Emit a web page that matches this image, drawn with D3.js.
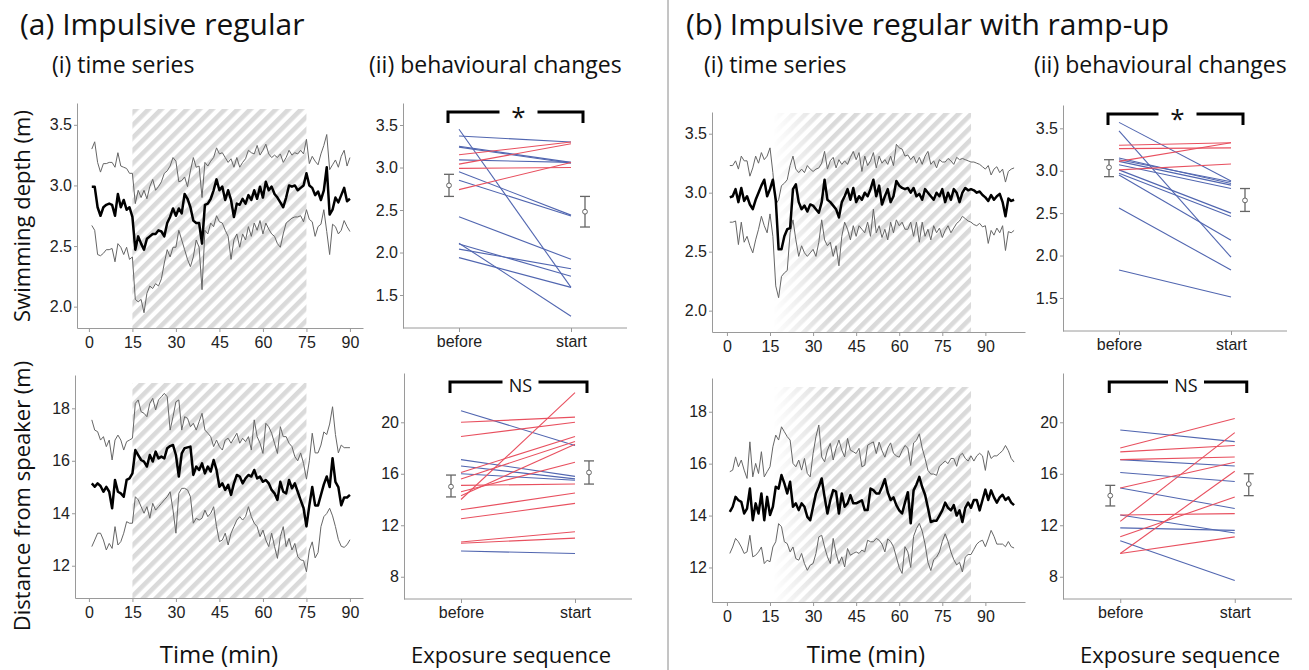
<!DOCTYPE html>
<html>
<head>
<meta charset="utf-8">
<script src="https://cdn.jsdelivr.net/npm/d3@7"></script>
<style>
  body { margin: 0; background: #fff; }
  svg { display: block; }
  .tick text { font-family: "Liberation Sans", Arial, sans-serif; font-size: 16px; fill: #222; }
  .title { font-family: "Open Sans", sans-serif; fill: #111; }
</style>
</head>
<body>
<div id="chart"></div>
<script>
// ---- data: time series (minute 1..N), swimming depth (m) and distance from speaker (m)

// (a) impulsive regular, minutes 1..90
const depthA_mean = [2.99,2.99,2.82,2.75,2.82,2.84,2.85,2.84,2.75,2.93,2.82,2.88,2.80,2.82,2.74,2.47,2.58,2.52,2.47,2.56,
  2.58,2.60,2.60,2.63,2.62,2.58,2.69,2.74,2.81,2.75,2.81,2.77,2.93,2.89,2.82,2.71,2.69,2.69,2.52,2.84,
  2.85,2.89,2.96,3.05,2.96,2.99,2.88,2.96,2.88,2.74,2.85,2.84,2.89,2.85,2.92,2.88,2.96,2.89,2.99,2.90,
  3.03,2.96,2.99,2.93,2.90,2.86,2.82,2.90,3.00,2.99,3.00,2.96,2.98,3.00,3.10,3.00,2.98,2.92,2.95,2.88,
  2.96,3.15,2.76,2.80,2.90,2.86,2.92,2.98,2.87,2.89];
const depthA_upper = [3.30,3.36,3.19,3.11,3.18,3.18,3.19,3.19,3.15,3.27,3.16,3.15,3.14,3.10,3.10,2.85,2.96,2.90,2.96,2.89,
  2.99,3.05,2.96,2.99,3.03,3.10,3.12,3.16,3.23,3.20,3.03,3.04,3.07,2.99,3.12,3.23,3.15,3.16,2.90,3.19,
  3.16,3.20,3.23,3.31,3.26,3.27,3.23,3.19,3.22,3.15,3.23,3.15,3.19,3.22,3.29,3.27,3.26,3.33,3.25,3.29,
  3.34,3.26,3.23,3.25,3.23,3.26,3.19,3.23,3.29,3.25,3.27,3.26,3.29,3.26,3.38,3.18,3.24,3.20,3.17,3.26,
  3.33,3.42,3.13,3.17,3.21,3.15,3.24,3.29,3.16,3.23];
const depthA_lower = [2.67,2.63,2.43,2.42,2.44,2.47,2.47,2.48,2.37,2.52,2.49,2.43,2.49,2.39,2.41,2.06,2.04,2.06,1.95,2.11,
  2.17,2.15,2.19,2.17,2.23,2.36,2.47,2.41,2.49,2.49,2.63,2.55,2.47,2.39,2.33,2.41,2.55,2.49,2.14,2.63,
  2.60,2.69,2.66,2.75,2.70,2.69,2.63,2.58,2.39,2.55,2.60,2.49,2.60,2.55,2.66,2.58,2.69,2.63,2.71,2.60,
  2.69,2.64,2.60,2.58,2.52,2.49,2.60,2.69,2.71,2.73,2.74,2.74,2.75,2.70,2.80,2.72,2.70,2.58,2.66,2.68,
  2.80,2.62,2.43,2.68,2.66,2.60,2.63,2.71,2.66,2.62];
const distA_mean = [15.14,15.01,15.14,15.04,14.82,15.01,14.82,14.19,15.27,14.82,14.76,14.63,15.27,15.33,15.52,16.41,16.22,16.03,15.97,15.78,
  16.22,15.97,16.35,16.09,16.16,16.09,16.48,16.56,16.60,16.22,15.40,16.28,16.48,16.51,16.54,15.46,15.78,15.65,15.90,15.52,
  15.78,15.59,16.03,15.65,15.01,15.14,14.89,15.08,14.70,15.14,15.46,15.40,15.14,15.33,15.46,15.40,15.65,15.33,15.40,15.20,
  15.27,15.14,14.89,14.76,14.51,15.20,14.82,14.76,15.27,14.95,15.14,14.82,14.50,14.20,13.50,14.30,15.00,14.30,14.30,14.70,
  15.10,15.40,15.00,16.10,15.20,15.00,14.30,14.60,14.60,14.70];
const distA_upper = [17.56,17.17,17.11,16.79,16.92,16.54,16.79,16.03,16.79,16.98,16.79,16.41,16.73,16.79,16.86,18.19,18.32,17.87,17.81,17.68,
  18.19,18.38,17.94,18.32,18.44,18.57,18.44,17.17,17.68,18.25,18.32,17.17,17.68,17.62,17.30,17.43,17.17,17.49,17.81,17.17,
  17.05,16.92,16.54,16.79,16.54,16.41,16.79,16.86,16.67,16.86,17.05,16.67,16.86,16.73,16.92,16.41,17.56,16.92,16.67,16.28,
  17.43,17.30,17.05,16.67,16.28,17.30,16.92,16.92,16.67,16.54,16.16,16.00,16.30,15.90,15.30,16.00,17.05,16.30,16.30,16.60,
  17.10,17.00,17.40,18.06,17.00,16.30,16.60,16.50,16.50,16.50];
const distA_lower = [12.73,12.98,13.24,13.24,12.98,12.60,12.85,12.66,13.49,12.79,12.92,13.24,13.68,13.62,13.62,14.63,14.51,14.25,14.00,14.25,
  13.81,14.38,14.12,14.25,14.38,14.51,14.63,14.82,14.12,13.24,14.76,14.95,14.95,14.89,14.63,13.62,13.81,13.74,13.81,14.12,
  13.87,14.00,14.25,13.49,12.92,12.98,13.24,12.79,13.24,13.49,13.74,13.87,13.74,13.87,14.25,13.87,13.62,13.49,13.11,13.36,
  12.98,12.73,13.24,12.73,12.28,13.11,13.49,12.73,13.04,12.60,12.85,12.35,12.22,12.20,11.77,12.60,12.91,12.30,12.50,13.49,
  13.87,13.99,14.19,13.90,13.49,13.00,12.74,12.70,12.80,12.99];

// (b) impulsive regular with ramp-up, minutes 1..100
const depthB_mean = [2.96,2.97,3.03,2.92,3.04,2.93,2.97,2.90,2.86,2.94,3.00,3.06,3.11,2.97,3.03,3.11,2.94,2.52,2.52,2.63,
  2.69,2.70,3.03,3.07,2.92,2.86,2.89,2.84,2.90,2.89,2.86,2.83,2.92,3.11,2.94,2.92,2.89,2.86,2.79,2.92,
  2.97,3.03,2.94,3.04,2.92,2.97,2.94,3.00,2.97,3.03,3.11,2.97,3.06,2.90,2.97,3.03,2.92,2.97,3.10,3.06,
  3.04,3.03,3.04,3.00,3.04,2.97,2.99,2.94,3.03,3.00,2.97,2.94,3.00,2.97,3.03,2.92,3.00,2.94,3.03,3.00,
  2.92,3.00,3.04,3.02,3.03,3.02,3.00,3.01,2.98,2.96,2.93,2.98,2.94,2.97,2.99,2.92,2.80,2.95,2.93,2.94];
const depthB_upper = [3.23,3.23,3.27,3.20,3.31,3.27,3.27,3.14,3.21,3.31,3.25,3.34,3.28,3.31,3.38,3.17,2.90,2.94,3.06,3.08,
  3.11,3.23,3.31,3.20,3.17,3.20,3.17,3.23,3.20,3.18,3.20,3.21,3.25,3.35,3.20,3.27,3.30,3.21,3.28,3.24,
  3.27,3.24,3.30,3.35,3.28,3.34,3.18,3.31,3.23,3.27,3.34,3.21,3.31,3.25,3.28,3.24,3.31,3.23,3.41,3.38,
  3.37,3.31,3.32,3.28,3.31,3.25,3.30,3.24,3.31,3.35,3.24,3.27,3.21,3.28,3.26,3.26,3.29,3.27,3.24,3.30,
  3.28,3.29,3.28,3.27,3.26,3.26,3.25,3.24,3.22,3.20,3.23,3.15,3.20,3.22,3.17,3.20,3.09,3.18,3.20,3.21];
const depthB_lower = [2.75,2.75,2.76,2.56,2.75,2.58,2.63,2.55,2.49,2.60,2.69,2.80,2.72,2.66,2.82,2.63,2.21,2.11,2.29,2.32,
  2.34,2.66,2.77,2.60,2.46,2.55,2.49,2.46,2.49,2.52,2.46,2.58,2.77,2.60,2.55,2.58,2.46,2.55,2.38,2.63,
  2.75,2.69,2.60,2.72,2.63,2.72,2.69,2.66,2.75,2.63,2.86,2.66,2.72,2.62,2.69,2.60,2.75,2.66,2.77,2.72,
  2.75,2.69,2.69,2.75,2.63,2.75,2.58,2.75,2.63,2.69,2.60,2.72,2.66,2.70,2.62,2.68,2.72,2.66,2.70,2.74,
  2.76,2.80,2.78,2.76,2.75,2.73,2.72,2.74,2.71,2.72,2.57,2.68,2.64,2.70,2.66,2.72,2.51,2.67,2.66,2.68];
const distB_mean = [14.14,14.34,14.72,14.59,14.53,14.08,14.27,15.04,13.82,14.47,14.08,14.85,13.82,14.72,14.02,14.34,15.11,15.04,15.56,15.24,
  14.85,15.30,14.34,14.47,14.21,14.47,14.34,13.95,13.82,14.34,14.85,15.11,15.43,14.72,14.08,14.59,14.98,14.92,14.08,14.85,
  14.34,14.47,14.79,14.47,14.47,14.53,14.59,14.21,14.21,15.04,14.98,14.85,14.85,15.10,15.40,14.90,14.60,14.70,14.40,14.20,
  14.08,14.50,14.90,13.70,14.97,15.20,15.49,15.10,14.80,14.30,13.75,13.80,13.80,14.00,14.20,14.50,14.30,14.20,14.40,14.00,
  14.20,13.75,14.30,14.50,14.30,14.60,14.60,14.20,14.60,15.00,14.60,14.97,14.70,14.50,14.70,14.80,14.60,14.70,14.50,14.40];
const distB_upper = [15.69,15.75,16.26,15.88,16.14,15.75,15.43,16.84,15.49,16.01,15.62,16.46,15.49,15.69,15.88,16.65,17.10,16.91,17.42,17.23,
  17.04,16.91,16.01,15.88,16.14,15.75,16.20,15.62,15.49,16.39,17.04,17.49,16.26,16.07,16.52,16.78,16.14,16.59,16.91,16.52,
  16.26,16.97,16.52,16.46,16.39,16.59,15.88,15.94,16.71,16.78,16.84,16.39,16.83,16.50,16.25,16.60,16.80,16.40,16.30,16.25,
  16.50,16.70,16.60,15.93,16.80,16.90,17.15,16.60,16.20,15.74,15.60,15.60,15.55,15.90,16.00,16.10,16.00,16.20,16.20,15.90,
  16.30,16.40,16.20,16.10,16.30,16.10,16.30,16.40,16.30,15.74,16.50,16.20,16.30,16.30,16.40,16.50,16.70,16.50,16.20,16.06];
const distB_lower = [12.54,12.79,13.12,12.99,12.79,12.54,12.60,13.24,12.41,12.47,12.60,12.79,12.15,12.28,12.22,12.79,12.99,13.69,13.57,12.99,
  12.92,12.60,12.79,12.34,12.28,12.54,12.15,11.89,12.09,12.15,12.54,13.18,13.24,12.79,12.41,12.15,13.12,12.54,12.15,12.41,
  12.02,12.73,12.47,12.54,12.60,12.54,12.67,12.60,13.05,12.99,12.99,13.12,13.05,12.90,12.60,13.10,13.00,12.80,12.40,12.00,
  11.77,12.80,12.60,12.00,13.20,13.50,13.70,13.40,12.90,12.20,11.88,12.30,12.40,12.60,13.00,13.30,13.00,12.60,12.30,12.10,
  12.20,11.83,12.40,12.50,12.50,12.70,12.90,13.00,13.05,12.80,13.10,13.43,13.20,12.90,12.90,12.90,12.80,13.00,12.80,12.75];

// ---- data: paired individual values, before vs start of exposure
const pairCats = ["before", "start"];
const depthA_before = [3.45,3.37,3.25,3.24,3.09,2.95,2.85,2.42,2.11,2.10,2.04,1.94,3.15,3.04,2.99,2.74];
const depthA_start  = [1.59,3.30,3.06,3.05,3.06,2.44,2.43,1.92,1.25,1.72,1.81,1.59,3.30,3.28,3.00,3.06];
const distA_before  = [20.9,17.1,16.6,16.0,10.0,20.0,18.9,16.1,15.6,15.1,14.6,14.3,14.0,13.2,12.5,10.7,10.6];
const distA_start   = [18.2,15.8,15.6,15.5, 9.8,20.4,20.0,18.9,18.5,15.2,16.9,18.3,22.3,14.5,13.7,11.5,11.0];
const depthB_before = [3.57,3.47,3.15,3.13,3.11,3.07,3.01,2.97,2.95,2.56,1.83,3.30,3.26,3.11,3.01];
const depthB_start  = [2.88,1.98,2.85,2.87,2.83,2.79,2.50,2.46,2.18,1.83,1.51,3.33,3.27,3.33,3.08];
const distB_before  = [19.4,17.1,16.1,14.9,12.8,11.8,10.8,18.0,17.7,17.1,14.9,12.8,12.3,11.1, 9.8, 9.8];
const distB_start   = [18.5,16.6,15.4,13.3,11.4,11.6, 7.7,20.3,18.2,17.3,16.9,12.9,19.2,14.2,16.2,11.1];

// group mean and error bar [mean, low, high] for before and start
const depthA_err = [[2.79, 2.66, 2.92], [2.48, 2.30, 2.66]];
const distA_err  = [[15.0, 14.2, 15.9], [16.1, 15.2, 17.0]];
const depthB_err = [[3.04, 2.93, 3.13], [2.65, 2.52, 2.79]];
const distB_err  = [[14.3, 13.5, 15.1], [15.2, 14.3, 16.0]];

const timeTicks = [0, 15, 30, 45, 60, 75, 90];
const depthTicksTS = [2.0, 2.5, 3.0, 3.5];
const distTicksTS = [12, 14, 16, 18];
const depthTicksPair = [1.5, 2.0, 2.5, 3.0, 3.5];
const distTicksPair = [8, 12, 16, 20];

const W = 1309, H = 670;
const svg = d3.select("#chart").append("svg").attr("width", W).attr("height", H);
const defs = svg.append("defs");

// hatch pattern for exposure period
const pat = defs.append("pattern")
    .attr("id", "hatch")
    .attr("patternUnits", "userSpaceOnUse")
    .attr("width", 9).attr("height", 9)
    .attr("patternTransform", "rotate(45)");
pat.append("rect").attr("width", 9).attr("height", 9).attr("fill", "#fff");
pat.append("rect").attr("width", 4.6).attr("height", 9).attr("fill", "#dadada");

function styleAxis(g) {
    g.select(".domain").attr("stroke", "#9a9a9a");
    g.selectAll(".tick line").attr("stroke", "#9a9a9a");
}

function drawTimeSeries(cfg) {
    let g = svg.append("g");
    let x = d3.scaleLinear().domain(cfg.xDomain).range([cfg.left, cfg.right]);
    let y = d3.scaleLinear().domain(cfg.yDomain).range([cfg.bottom, cfg.top]);

    // exposure period
    let hatch = g.append("rect")
        .attr("x", x(cfg.expo[0])).attr("y", cfg.hatchTop)
        .attr("width", x(cfg.expo[1]) - x(cfg.expo[0]))
        .attr("height", cfg.bottom - cfg.hatchTop)
        .attr("fill", "url(#hatch)");
    if (cfg.ramp) {
        let gid = "ramp" + cfg.id;
        let grad = defs.append("linearGradient").attr("id", gid)
            .attr("gradientUnits", "userSpaceOnUse")
            .attr("x1", x(cfg.ramp[0])).attr("x2", x(cfg.ramp[1]))
            .attr("y1", 0).attr("y2", 0);
        grad.append("stop").attr("offset", 0).attr("stop-color", "#000");
        grad.append("stop").attr("offset", 1).attr("stop-color", "#fff");
        let mask = defs.append("mask").attr("id", "m" + gid)
            .attr("maskUnits", "userSpaceOnUse");
        mask.append("rect").attr("x", 0).attr("y", 0).attr("width", W).attr("height", H)
            .attr("fill", "url(#" + gid + ")");
        hatch.attr("mask", "url(#m" + gid + ")");
    }

    let line = d3.line().x((d, i) => x(i + 1)).y(d => y(d));
    g.append("path").datum(cfg.upper).attr("d", line)
        .attr("fill", "none").attr("stroke", "#666").attr("stroke-width", 1);
    g.append("path").datum(cfg.lower).attr("d", line)
        .attr("fill", "none").attr("stroke", "#666").attr("stroke-width", 1);
    g.append("path").datum(cfg.mean).attr("d", line)
        .attr("fill", "none").attr("stroke", "#000").attr("stroke-width", 2.5)
        .attr("stroke-linejoin", "round");

    g.append("g").attr("transform", `translate(0,${cfg.bottom})`)
        .call(d3.axisBottom(x).tickValues(timeTicks).tickSize(4).tickPadding(5).tickSizeOuter(0))
        .call(styleAxis);
    g.append("g").attr("transform", `translate(${cfg.left},0)`)
        .call(d3.axisLeft(y).tickValues(cfg.yTicks).tickFormat(cfg.fmt).tickSize(3).tickPadding(2).tickSizeOuter(0))
        .call(styleAxis);
}

function drawPairs(cfg) {
    let g = svg.append("g");
    let x = d3.scalePoint().domain(pairCats).range([cfg.left, cfg.right]).padding(0.5);
    let y = d3.scaleLinear().domain(cfg.yDomain).range([cfg.bottom, cfg.top]);
    let x0 = x("before"), x1 = x("start");

    cfg.before.forEach((b, i) => {
        let s = cfg.start[i];
        g.append("line")
            .attr("x1", x0).attr("x2", x1)
            .attr("y1", y(b)).attr("y2", y(s))
            .attr("stroke", s >= b ? "#e8505f" : "#5166b0")
            .attr("stroke-width", 1.1);
    });

    // means with error bars
    let ex = [x0 - 10, x1 + 14];
    cfg.err.forEach((e, i) => {
        let cx = ex[i];
        g.append("line").attr("x1", cx).attr("x2", cx).attr("y1", y(e[1])).attr("y2", y(e[2]))
            .attr("stroke", "#666").attr("stroke-width", 1.3);
        [e[1], e[2]].forEach(v => {
            g.append("line").attr("x1", cx - 5).attr("x2", cx + 5).attr("y1", y(v)).attr("y2", y(v))
                .attr("stroke", "#666").attr("stroke-width", 1.3);
        });
        g.append("circle").attr("cx", cx).attr("cy", y(e[0])).attr("r", 2.4)
            .attr("fill", "#fff").attr("stroke", "#666").attr("stroke-width", 1);
    });

    // significance bracket
    let bx1 = x0 - 11, bx2 = x1 + 12, by = cfg.top + 9, mid = (bx1 + bx2) / 2 + cfg.labelShift;
    let gap = cfg.label === "*" ? 19 : 18;
    g.append("path")
        .attr("d", `M${bx1},${by + 11}V${by}H${mid - gap}M${mid + gap},${by}H${bx2}V${by + 11}`)
        .attr("fill", "none").attr("stroke", "#000").attr("stroke-width", 3);
    g.append("text").attr("class", "title")
        .attr("x", mid).attr("y", cfg.label === "*" ? by + 14 : by + 10)
        .attr("text-anchor", "middle")
        .attr("font-size", cfg.label === "*" ? 26 : 18)
        .text(cfg.label);

    g.append("g").attr("transform", `translate(0,${cfg.bottom})`)
        .call(d3.axisBottom(x).tickSize(4).tickPadding(4).tickSizeOuter(0))
        .call(styleAxis)
        .call(a => a.select(".domain").attr("d", `M${cfg.left},0H${cfg.right}`));
    g.append("g").attr("transform", `translate(${cfg.left},0)`)
        .call(d3.axisLeft(y).tickValues(cfg.yTicks).tickFormat(cfg.fmt).tickSize(3).tickPadding(2).tickSizeOuter(0))
        .call(styleAxis);
}

const f1 = d3.format(".1f"), f0 = d3.format("d");

// (a) time series
drawTimeSeries({id: "a1", left: 77, right: 363, top: 103, bottom: 328, hatchTop: 109,
    xDomain: [-4.1, 94.5], yDomain: [1.824, 3.68], expo: [15, 75],
    mean: depthA_mean, upper: depthA_upper, lower: depthA_lower, yTicks: depthTicksTS, fmt: f1});
drawTimeSeries({id: "a2", left: 75, right: 363, top: 375, bottom: 598, hatchTop: 383,
    xDomain: [-4.8, 94.5], yDomain: [10.77, 19.27], expo: [15, 75],
    mean: distA_mean, upper: distA_upper, lower: distA_lower, yTicks: distTicksTS, fmt: f0});
// (a) paired
drawPairs({left: 403, right: 627, top: 103, bottom: 328, yDomain: [1.112, 3.759],
    before: depthA_before, start: depthA_start, err: depthA_err, yTicks: depthTicksPair, fmt: f1,
    label: "*", labelShift: 3});
drawPairs({left: 404, right: 632, top: 373, bottom: 599, yDomain: [6.27, 23.83],
    before: distA_before, start: distA_start, err: distA_err, yTicks: distTicksPair, fmt: f0,
    label: "NS", labelShift: 2});

// (b) time series
drawTimeSeries({id: "b1", left: 712, right: 1025, top: 112, bottom: 332, hatchTop: 113,
    xDomain: [-5.2, 103.8], yDomain: [1.819, 3.684], expo: [15, 85], ramp: [16, 36],
    mean: depthB_mean, upper: depthB_upper, lower: depthB_lower, yTicks: depthTicksTS, fmt: f1});
drawTimeSeries({id: "b2", left: 712, right: 1025, top: 378, bottom: 602, hatchTop: 387,
    xDomain: [-5.2, 103.8], yDomain: [10.67, 19.3], expo: [15, 85], ramp: [16, 36],
    mean: distB_mean, upper: distB_upper, lower: distB_lower, yTicks: distTicksTS, fmt: f0});
// (b) paired
drawPairs({left: 1063, right: 1287, top: 105, bottom: 331, yDomain: [1.11, 3.775],
    before: depthB_before, start: depthB_start, err: depthB_err, yTicks: depthTicksPair, fmt: f1,
    label: "*", labelShift: 2});
drawPairs({left: 1063, right: 1292, top: 373, bottom: 599, yDomain: [6.27, 23.83],
    before: distB_before, start: distB_start, err: distB_err, yTicks: distTicksPair, fmt: f0,
    label: "NS", labelShift: 8});

// divider between (a) and (b)
svg.append("line").attr("x1", 668).attr("x2", 668).attr("y1", 0).attr("y2", H)
    .attr("stroke", "#8a8a8a").attr("stroke-width", 1);

// titles and labels
const texts = [
    {t: "(a) Impulsive regular", x: 20, y: 35, s: 30, a: "start"},
    {t: "(b) Impulsive regular with ramp-up", x: 686, y: 35, s: 30, a: "start"},
    {t: "(i) time series", x: 52, y: 73, s: 23, a: "start"},
    {t: "(ii) behavioural changes", x: 369, y: 73, s: 23, a: "start"},
    {t: "(i) time series", x: 704, y: 73, s: 23, a: "start"},
    {t: "(ii) behavioural changes", x: 1034, y: 73, s: 23, a: "start"},
    {t: "Time (min)", x: 219, y: 663, s: 24, a: "middle"},
    {t: "Exposure sequence", x: 511, y: 663, s: 22, a: "middle"},
    {t: "Time (min)", x: 866, y: 663, s: 24, a: "middle"},
    {t: "Exposure sequence", x: 1180, y: 663, s: 22, a: "middle"}
];
texts.forEach(d => {
    svg.append("text").attr("class", "title")
        .attr("x", d.x).attr("y", d.y).attr("font-size", d.s)
        .attr("text-anchor", d.a).text(d.t);
});
[{t: "Swimming depth (m)", y: 216}, {t: "Distance from speaker (m)", y: 496}].forEach(d => {
    svg.append("text").attr("class", "title")
        .attr("transform", `translate(30,${d.y}) rotate(-90)`)
        .attr("font-size", 22).attr("text-anchor", "middle").text(d.t);
});
</script>
</body>
</html>
